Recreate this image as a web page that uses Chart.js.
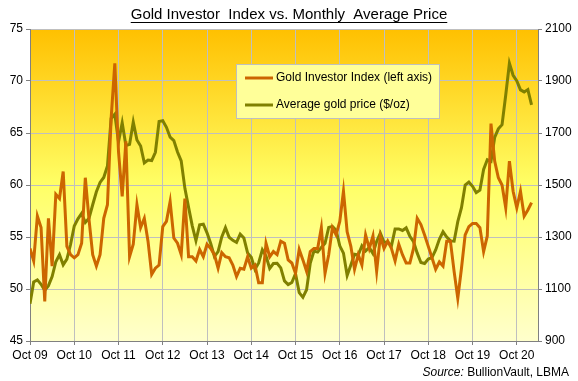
<!DOCTYPE html>
<html>
<head>
<meta charset="utf-8">
<script src="https://cdn.jsdelivr.net/npm/chart.js@4.4.0/dist/chart.umd.min.js"></script>
<style>
  html, body { margin: 0; padding: 0; background: #fff; }
</style>
</head>
<body>
<canvas id="chart1" width="578" height="381"></canvas>
<script>
// monthly, Oct 2009 .. Feb 2021
var indexValues = [
  53.9, 52.7, 57.0,
  55.9, 48.8, 56.8, 52.2, 59.1, 58.7, 61.3, 54.1, 53.3, 53.0, 53.3, 54.4,
  60.7, 56.7, 53.3, 52.2, 53.3, 56.8, 58.1, 66.4, 71.7, 63.2, 58.9, 64.2,
  53.1, 54.3, 58.1, 55.9, 56.8, 54.6, 51.4, 52.0, 52.3, 56.0, 56.5, 58.4,
  54.9, 54.4, 53.3, 58.7, 53.1, 53.1, 52.7, 53.8, 53.1, 54.3, 53.9, 53.3,
  52.0, 53.5, 53.1, 53.0, 52.3, 51.2, 52.0, 51.9, 53.1, 52.0, 52.3, 50.6,
  50.6, 54.4, 53.1, 53.6, 53.3, 54.6, 54.4, 52.8, 52.5, 51.5, 53.8, 52.8,
  51.7, 53.6, 53.9, 53.9, 55.9, 51.5, 53.3, 55.9, 55.2, 56.5, 59.4, 55.5,
  54.1, 51.9, 53.3, 52.3, 55.2, 53.9, 55.1, 51.7, 55.1, 53.9, 54.6, 53.9,
  52.7, 54.3, 53.3, 52.5, 52.5, 53.9, 56.8, 56.2, 55.2, 54.1, 53.0, 51.9,
  52.6, 52.2, 54.6, 54.6, 51.7, 49.1, 52.0, 55.2, 56.0, 56.3, 56.3, 55.9,
  53.6, 55.1, 65.9, 62.3, 60.7, 60.0, 57.8, 62.3, 59.4, 57.8, 59.4, 57.0,
  57.6, 58.3
];

var goldPrice = [
  1043, 1127, 1135,
  1118, 1095, 1113, 1148, 1205, 1232, 1193, 1215, 1271, 1342, 1370, 1391,
  1356, 1372, 1424, 1474, 1510, 1529, 1573, 1756, 1772, 1666, 1739, 1652,
  1656, 1742, 1673, 1650, 1585, 1596, 1594, 1626, 1744, 1747, 1722, 1684,
  1671, 1627, 1593, 1487, 1414, 1343, 1286, 1347, 1349, 1316, 1275, 1225,
  1244, 1300, 1336, 1299, 1287, 1279, 1311, 1296, 1239, 1222, 1176, 1200,
  1251, 1227, 1179, 1198, 1199, 1181, 1131, 1117, 1125, 1159, 1086, 1068,
  1097, 1200, 1246, 1242, 1260, 1276, 1337, 1341, 1326, 1266, 1238, 1152,
  1192, 1234, 1231, 1266, 1246, 1260, 1236, 1283, 1315, 1280, 1281, 1265,
  1331, 1331, 1325, 1335, 1303, 1282, 1238, 1202, 1198, 1215, 1221, 1250,
  1291, 1320, 1300, 1285, 1284, 1359, 1413, 1500, 1511, 1495, 1471, 1480,
  1560, 1597, 1591, 1683, 1716, 1732, 1846, 1968, 1922, 1900, 1866, 1858,
  1867, 1808
];

var tickLabels = ['Oct 09', 'Oct 10', 'Oct 11', 'Oct 12', 'Oct 13', 'Oct 14',
                  'Oct 15', 'Oct 16', 'Oct 17', 'Oct 18', 'Oct 19', 'Oct 20'];

var font = '"Liberation Sans", Arial, sans-serif';

var bgPlugin = {
  id: 'bg',
  beforeDraw: function (chart) {
    var a = chart.chartArea, ctx = chart.ctx;
    var g = ctx.createLinearGradient(0, a.top, 0, a.bottom);
    g.addColorStop(0, '#FFC000');
    g.addColorStop(0.5, '#FFFF66');
    g.addColorStop(1, '#FFFFCC');
    ctx.save();
    ctx.fillStyle = g;
    ctx.fillRect(a.left, a.top, a.right - a.left, a.bottom - a.top);
    ctx.restore();
  }
};

var textPlugin = {
  id: 'texts',
  afterDraw: function (chart) {
    var ctx = chart.ctx;
    ctx.save();
    // title, underlined
    ctx.font = '15px ' + font;
    ctx.fillStyle = '#000';
    ctx.textAlign = 'center';
    ctx.textBaseline = 'alphabetic';
    var title = 'Gold Investor  Index vs. Monthly  Average Price';
    var w = ctx.measureText(title).width;
    ctx.fillText(title, 289, 19);
    ctx.strokeStyle = '#000';
    ctx.lineWidth = 1;
    ctx.beginPath();
    ctx.moveTo(289 - w / 2, 22.5);
    ctx.lineTo(289 + w / 2, 22.5);
    ctx.stroke();

    // legend
    ctx.fillStyle = '#FFFF99';
    ctx.strokeStyle = '#BFBFBF';
    ctx.fillRect(236.5, 64.5, 203, 54);
    ctx.strokeRect(236.5, 64.5, 203, 54);
    var ds = chart.data.datasets;
    var rows = [78, 105];
    ctx.font = '12px ' + font;
    ctx.textAlign = 'left';
    ctx.textBaseline = 'middle';
    for (var i = 0; i < ds.length; i++) {
      ctx.strokeStyle = ds[i].borderColor;
      ctx.lineWidth = 3;
      ctx.beginPath();
      ctx.moveTo(245, rows[i]);
      ctx.lineTo(273, rows[i]);
      ctx.stroke();
      ctx.fillStyle = '#000';
      ctx.fillText(ds[i].label, 276, rows[i]);
    }

    // source
    ctx.textAlign = 'right';
    ctx.textBaseline = 'alphabetic';
    ctx.font = '12px ' + font;
    var rest = ' BullionVault, LBMA';
    ctx.fillText(rest, 569, 376);
    var rw = ctx.measureText(rest).width;
    ctx.font = 'italic 12px ' + font;
    ctx.fillText('Source:', 569 - rw, 376);
    ctx.restore();
  }
};

var ctx1 = document.getElementById('chart1').getContext('2d');
var chart1 = new Chart(ctx1, {
  type: 'line',
  data: {
    datasets: [{
      label: 'Gold Investor Index (left axis)',
      data: indexValues.map(function (v, i) { return { x: i, y: v }; }),
      borderColor: '#CC6600',
      borderWidth: 3,
      pointRadius: 0,
      yAxisID: 'y'
    }, {
      label: 'Average gold price ($/oz)',
      data: goldPrice.map(function (v, i) { return { x: i, y: v }; }),
      borderColor: '#808000',
      borderWidth: 3,
      pointRadius: 0,
      yAxisID: 'y2'
    }]
  },
  options: {
    responsive: false,
    devicePixelRatio: 1,
    animation: false,
    layout: { padding: { top: 29, left: 0, right: 0, bottom: 0 } },
    plugins: { legend: { display: false }, tooltip: { enabled: false } },
    scales: {
      x: {
        type: 'linear',
        min: 0,
        max: 137.75,
        afterBuildTicks: function (scale) {
          scale.ticks = tickLabels.map(function (l, i) { return { value: i * 12 }; });
        },
        afterFit: function (scale) { scale.height = 40; },
        ticks: {
          autoSkip: false,
          maxRotation: 0,
          padding: 3,
          color: '#000',
          font: { family: font, size: 12 },
          callback: function (v) { return tickLabels[v / 12]; }
        },
        grid: { color: '#BFBFBF', tickLength: 4, tickColor: '#808080' },
        border: { color: '#808080' }
      },
      y: {
        position: 'left',
        min: 45,
        max: 75,
        afterFit: function (scale) { scale.width = 30; },
        ticks: {
          stepSize: 5,
          padding: 3,
          color: '#000',
          font: { family: font, size: 12 }
        },
        grid: { color: '#BFBFBF', tickLength: 4, tickColor: '#808080' },
        border: { color: '#808080' }
      },
      y2: {
        position: 'right',
        min: 900,
        max: 2100,
        afterFit: function (scale) { scale.width = 40; },
        ticks: {
          stepSize: 200,
          padding: 3,
          color: '#000',
          font: { family: font, size: 12 },
          callback: function (v) { return String(v); }
        },
        grid: { drawOnChartArea: false, tickLength: 4, tickColor: '#808080' },
        border: { color: '#808080' }
      }
    }
  },
  plugins: [bgPlugin, textPlugin]
});
</script>
</body>
</html>
